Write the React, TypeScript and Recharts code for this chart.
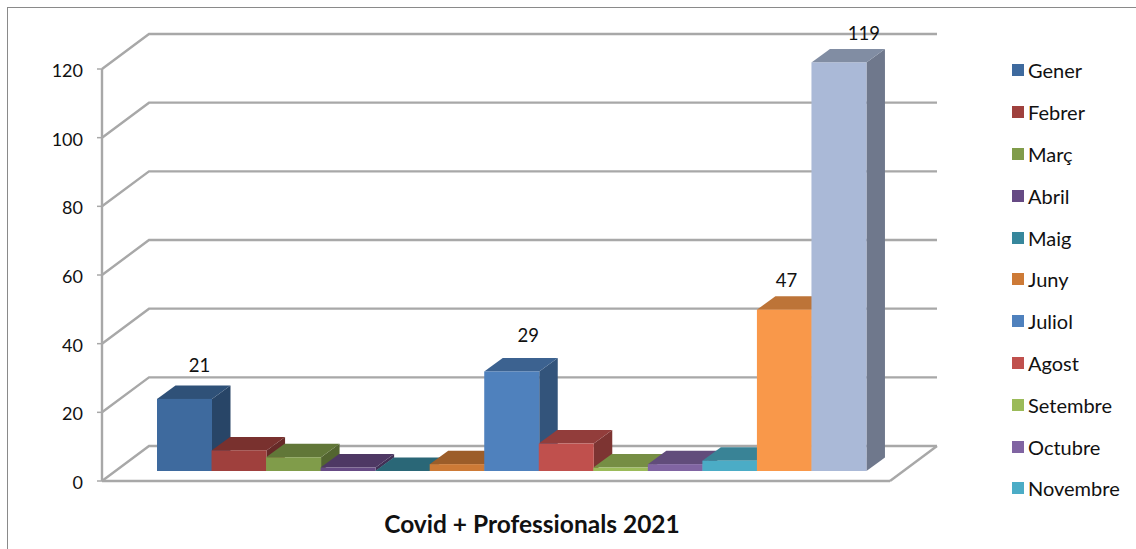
import {Bar, BarChart, CartesianGrid, LabelList, Legend, XAxis, YAxis} from 'recharts';

const legendMonths = ['Gener', 'Febrer', 'Març', 'Abril', 'Maig', 'Juny', 'Juliol', 'Agost', 'Setembre', 'Octubre', 'Novembre'];
// the last two bars have no entry in the legend
const barNames = [...legendMonths, 'Extra 1', 'Extra 2'];
const barValues = [21, 6, 4, 1, 0, 2, 29, 8, 1, 2, 3, 47, 119];
const barLabels = [21, null, null, null, null, null, 29, null, null, null, null, 47, 119];
const barColors = ['#3e6a9e', '#9f403d', '#809c4a', '#664a84', '#37879c', '#cd7a36', '#4f81bd', '#c0504d', '#9bbb59', '#8064a2', '#4bacc6', '#f9984a', '#aab9d7'];
const yTicks = [0, 20, 40, 60, 80, 100, 120];

const FONT = 'Lato, sans-serif';
const GRID_COLOR = '#a8a8a8';
// wall depth of the 3D box and of one bar
const WALL_DX = 47;
const WALL_DY = 35;
const BAR_DX = 18.5;
const BAR_DY = 13.5;
const BAR_LIFT = 10;

const data = barNames.map((name, i) => ({name, value: barValues[i], label: barLabels[i]}));

// hand placed value labels, relative to the centre of the bar top
const labelNudge: Record<number, [number, number]> = {
    21: [15, -44],
    29: [16.5, -46],
    47: [2, -40],
    119: [25, -39],
};

const shade = (hex: string, f: number) => {
    const n = parseInt(hex.slice(1), 16);
    const c = [n >> 16, (n >> 8) & 255, n & 255].map(v => Math.round(v * f));
    return `rgb(${c.join(',')})`;
};

const Bar3D = (props: any) => {
    const {x, y, width, height, index} = props;
    const color = barColors[index];
    const top = y - BAR_LIFT;
    const bottom = top + height;
    const right = x + width;
    return (
        <g>
            <polygon
                points={`${right},${top} ${right + BAR_DX},${top - BAR_DY} ${right + BAR_DX},${bottom - BAR_DY} ${right},${bottom}`}
                fill={shade(color, 0.65)}/>
            <polygon
                points={`${x},${top} ${x + BAR_DX},${top - BAR_DY} ${right + BAR_DX},${top - BAR_DY} ${right},${top}`}
                fill={shade(color, 0.76)}/>
            <rect x={x} y={top} width={width} height={height} fill={color}/>
        </g>
    );
};

const WallLine = (props: any) => {
    const {x1, x2, y1, index} = props;
    const backY = y1 - WALL_DY;
    // the lowest line also closes the floor on the right
    const isFloor = y1 > 470;
    return (
        <g key={index}>
            <polyline
                points={`${x1},${y1} ${x1 + WALL_DX},${backY} ${x2 + WALL_DX},${backY}`}
                fill="none" stroke={GRID_COLOR} strokeWidth={2.4}/>
            {isFloor && <line x1={x2} y1={y1} x2={x2 + WALL_DX} y2={backY} stroke={GRID_COLOR} strokeWidth={2.4}/>}
        </g>
    );
};

const ValueLabel = (props: any) => {
    const {x, y, width, value} = props;
    if (value === null || value === undefined) return null;
    const [dx, dy] = labelNudge[value];
    return (
        <text x={x + width / 2 + dx} y={y + dy} textAnchor="middle" dominantBaseline="central"
              fontFamily={FONT} fontSize={18.5} fill="#111">
            {value}
        </text>
    );
};

const MonthLegend = () => (
    <div style={{fontFamily: FONT, fontSize: 20, color: '#111'}}>
        {legendMonths.map((month, i) => (
            <div key={month} style={{display: 'flex', alignItems: 'center', height: 41.8}}>
                <span style={{width: 12, height: 12, marginRight: 4, background: barColors[i]}}/>
                {month}
            </div>
        ))}
    </div>
);

export default function App() {
    return (
        <div style={{position: 'absolute', left: 0, top: 0, width: 1136, height: 549, overflow: 'hidden', background: '#fff'}}>
            <div style={{position: 'absolute', left: 7, top: 7, right: 0, bottom: 0, borderLeft: '1.5px solid #8a8a8a', borderTop: '1.5px solid #8a8a8a'}}/>
            <BarChart width={1136} height={549} data={data} barCategoryGap={0}
                      margin={{top: 69, right: 246, bottom: 67, left: 101}}>
                <CartesianGrid vertical={false} horizontal={WallLine}/>
                <XAxis dataKey="name" height={1} tick={false} tickLine={false}
                       padding={{left: 55, right: 24}}
                       axisLine={{stroke: GRID_COLOR, strokeWidth: 2.4}}/>
                <YAxis width={1} domain={[0, 120]} ticks={yTicks} interval={0}
                       tickSize={5} tickMargin={14}
                       axisLine={{stroke: GRID_COLOR, strokeWidth: 2.4}}
                       tickLine={{stroke: GRID_COLOR, strokeWidth: 1.5}}
                       tick={{fontFamily: FONT, fontSize: 18, fill: '#111', dy: 1.5}}/>
                <Legend layout="vertical" align="center" verticalAlign="middle" content={<MonthLegend/>}
                        wrapperStyle={{left: 1012, top: 49.5, width: 124}}/>
                <Bar dataKey="value" isAnimationActive={false} shape={<Bar3D/>}>
                    <LabelList dataKey="label" content={<ValueLabel/>}/>
                </Bar>
                <text x={532} y={523} textAnchor="middle" dominantBaseline="central"
                      fontFamily={FONT} fontSize={24.5} fontWeight={700} fill="#111">
                    Covid + Professionals 2021
                </text>
            </BarChart>
        </div>
    );
}
